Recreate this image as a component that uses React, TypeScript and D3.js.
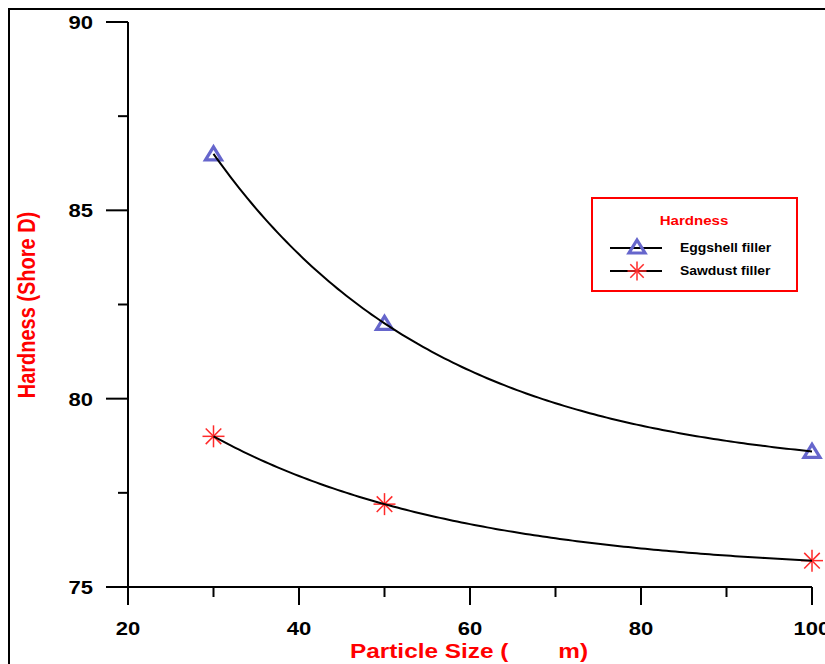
import React, { useEffect, useRef } from 'react';
import * as d3 from 'd3';

// particle sizes (µm) and hardness readings (Shore D)
const particleSizes = [30, 50, 100];
const eggshellHardness = [86.5, 82.0, 78.6];
const sawdustHardness = [79.0, 77.2, 75.7];

const xTicks = [20, 40, 60, 80, 100];
const xMinorTicks = [30, 50, 70, 90];
const yTicks = [75, 80, 85, 90];
const yMinorTicks = [77.5, 82.5, 87.5];

const W = 825;
const H = 664;
const STRETCH = 1.16; // the original text is drawn a bit wide
const FONT = '"Liberation Sans", Arial, sans-serif';
const TRI_COLOR = '#6666cc';
const STAR_COLOR = '#ff2a2a';

// exponential decay y = c + a*exp(-k x) through the three readings
function expFit(xs: number[], ys: number[]) {
    const [x1, x2, x3] = xs;
    const [y1, y2, y3] = ys;
    const target = (y1 - y2) / (y2 - y3);
    const ratio = (k: number) =>
        (Math.exp(-k * x1) - Math.exp(-k * x2)) / (Math.exp(-k * x2) - Math.exp(-k * x3));
    let lo = 1e-6, hi = 1;
    for (let i = 0; i < 100; i++) {
        const mid = (lo + hi) / 2;
        if (ratio(mid) < target) lo = mid; else hi = mid;
    }
    const k = (lo + hi) / 2;
    const a = (y1 - y2) / (Math.exp(-k * x1) - Math.exp(-k * x2));
    const c = y1 - a * Math.exp(-k * x1);
    return (x: number) => c + a * Math.exp(-k * x);
}

function App() {
    const svgRef = useRef<SVGSVGElement>(null);

    useEffect(() => {
        const svg = d3.select(svgRef.current);
        svg.selectAll('*').remove();

        const x = d3.scaleLinear().domain([20, 100]).range([128, 812]);
        const y = d3.scaleLinear().domain([75, 90]).range([587, 22]);

        // outer frame
        svg.append('rect')
            .attr('x', 9).attr('y', 9)
            .attr('width', W + 40).attr('height', H + 40)
            .attr('fill', 'none').attr('stroke', '#000').attr('stroke-width', 2);

        // axes
        const yAxis = svg.append('g').attr('transform', `translate(${x(20)},0)`);
        yAxis.append('line')
            .attr('x1', 0).attr('x2', 0).attr('y1', y(90)).attr('y2', y(75))
            .attr('stroke', '#000').attr('stroke-width', 2);
        yAxis.selectAll('.major').data(yTicks).join('line')
            .attr('x1', -22).attr('x2', 0).attr('y1', d => y(d)).attr('y2', d => y(d))
            .attr('stroke', '#000').attr('stroke-width', 2);
        yAxis.selectAll('.minor').data(yMinorTicks).join('line')
            .attr('class', 'minor')
            .attr('x1', -10).attr('x2', 0).attr('y1', d => y(d)).attr('y2', d => y(d))
            .attr('stroke', '#000').attr('stroke-width', 2);
        svg.append('g').selectAll('text').data(yTicks).join('text')
            .attr('transform', d => `translate(93,${y(d)}) scale(${STRETCH},1)`)
            .attr('dy', '0.36em')
            .attr('text-anchor', 'end')
            .style('font', `bold 19px ${FONT}`)
            .text(d => d);

        const xAxis = svg.append('g').attr('transform', `translate(0,${y(75)})`);
        xAxis.append('line')
            .attr('x1', x(20)).attr('x2', x(100)).attr('y1', 0).attr('y2', 0)
            .attr('stroke', '#000').attr('stroke-width', 2);
        xAxis.selectAll('.major').data(xTicks).join('line')
            .attr('class', 'major')
            .attr('x1', d => x(d)).attr('x2', d => x(d)).attr('y1', 0).attr('y2', 18)
            .attr('stroke', '#000').attr('stroke-width', 2);
        xAxis.selectAll('.minor').data(xMinorTicks).join('line')
            .attr('class', 'minor')
            .attr('x1', d => x(d)).attr('x2', d => x(d)).attr('y1', 0).attr('y2', 10)
            .attr('stroke', '#000').attr('stroke-width', 2);
        svg.append('g').selectAll('text').data(xTicks).join('text')
            .attr('transform', d => `translate(${x(d)},635) scale(${STRETCH},1)`)
            .attr('text-anchor', 'middle')
            .style('font', `bold 19px ${FONT}`)
            .text(d => d);

        // axis titles
        const xLabel = svg.append('text')
            .attr('transform', `translate(350,658) scale(${STRETCH},1)`)
            .style('font', `bold 21px ${FONT}`)
            .attr('fill', '#ff0000');
        xLabel.append('tspan').text('Particle Size (');
        xLabel.append('tspan').attr('dx', 43).text('m)');

        svg.append('text')
            .attr('transform', `translate(35,305) scale(${STRETCH},1) rotate(-90)`)
            .attr('text-anchor', 'middle')
            .style('font', `bold 20px ${FONT}`)
            .attr('fill', '#ff0000')
            .text('Hardness (Shore D)');

        // markers
        const triangle = (g: d3.Selection<any, any, any, any>, cx: number, cy: number) => {
            g.append('path')
                .attr('d', `M${cx},${cy - 7} L${cx + 8},${cy + 6} L${cx - 8},${cy + 6} Z`)
                .attr('fill', 'none')
                .attr('stroke', TRI_COLOR)
                .attr('stroke-width', 3.2)
                .attr('stroke-linejoin', 'miter');
        };
        const star = (g: d3.Selection<any, any, any, any>, cx: number, cy: number, r: number) => {
            d3.range(4).forEach(i => {
                const ang = (i * Math.PI) / 4;
                g.append('line')
                    .attr('x1', cx - r * Math.cos(ang)).attr('y1', cy - r * Math.sin(ang))
                    .attr('x2', cx + r * Math.cos(ang)).attr('y2', cy + r * Math.sin(ang))
                    .attr('stroke', STAR_COLOR).attr('stroke-width', 1.5);
            });
        };

        const plot = svg.append('g');
        const series = [
            { values: eggshellHardness, kind: 'tri' },
            { values: sawdustHardness, kind: 'star' },
        ];
        series.forEach(s => {
            particleSizes.forEach((p, i) => {
                if (s.kind === 'tri') triangle(plot, x(p), y(s.values[i]));
                else star(plot, x(p), y(s.values[i]), 11);
            });
        });

        const line = d3.line<number>().x(d => x(d[0])).y(d => y(d[1])).curve(d3.curveLinear);
        series.forEach(s => {
            const f = expFit(particleSizes, s.values);
            const pts = d3.range(30, 100.001, 0.5).map(v => [v, f(v)]);
            plot.append('path')
                .attr('d', line(pts as any))
                .attr('fill', 'none')
                .attr('stroke', '#000')
                .attr('stroke-width', 2);
        });

        // legend
        const legend = svg.append('g');
        legend.append('rect')
            .attr('x', 592).attr('y', 198).attr('width', 205).attr('height', 93)
            .attr('fill', 'none').attr('stroke', '#ff0000').attr('stroke-width', 2);
        legend.append('text')
            .attr('transform', `translate(694,225) scale(${STRETCH},1)`)
            .attr('text-anchor', 'middle')
            .attr('fill', '#ff0000')
            .style('font', `bold 13px ${FONT}`)
            .text('Hardness');
        const entries = [
            { label: 'Eggshell filler', kind: 'tri', yy: 248 },
            { label: 'Sawdust filler', kind: 'star', yy: 271 },
        ];
        entries.forEach(e => {
            legend.append('line')
                .attr('x1', 610).attr('x2', 662).attr('y1', e.yy).attr('y2', e.yy)
                .attr('stroke', '#000').attr('stroke-width', 2);
            if (e.kind === 'tri') triangle(legend, 637, e.yy - 1);
            else star(legend, 637, e.yy, 9.5);
            legend.append('text')
                .attr('transform', `translate(680,${e.yy + 4}) scale(${STRETCH},1)`)
                .style('font', `bold 12px ${FONT}`)
                .text(e.label);
        });
    }, []);

    return (
        <svg ref={svgRef} width={W} height={H}
             style={{ position: 'absolute', left: 0, top: 0, background: '#fff' }} />
    );
}

export default App;
